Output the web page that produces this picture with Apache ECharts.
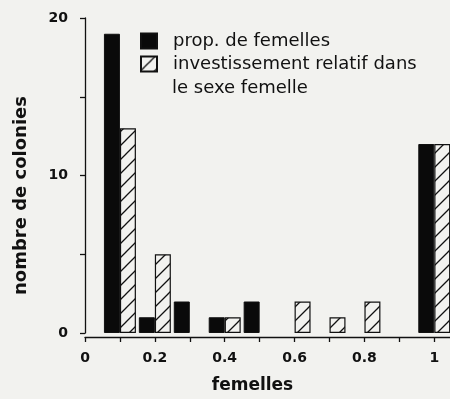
<!DOCTYPE html>
<html>
<head>
<meta charset="utf-8">
<script src="https://cdn.jsdelivr.net/npm/echarts@6/dist/echarts.min.js"></script>
<style>
  html, body { margin: 0; padding: 0; background: #f2f2ef; }
  #chart { width: 450px; height: 399px; }
</style>
</head>
<body>
<div id="chart"></div>
<script>
// Proportion classes (centre of each 0.1-wide class)
const classes = [0.1, 0.2, 0.3, 0.4, 0.5, 0.6, 0.7, 0.8, 0.9, 1.0];
// Number of colonies per class
const propFemelles = [19, 1, 2, 1, 2, 0, 0, 0, 0, 12];
const investissement = [13, 5, 0, 1, 0, 2, 1, 2, 0, 12];
// Axis ticks and labels
const xTicks = [0, 0.1, 0.2, 0.3, 0.4, 0.5, 0.6, 0.7, 0.8, 0.9, 1.0];
const xLabels = [0, 0.2, 0.4, 0.6, 0.8, 1.0];
const yLabels = [0, 10, 20];

const seriesNames = ['prop. de femelles', 'investissement relatif dans'];
const legendExtraLine = 'le sexe femelle';

// Empty classes get no bar at all (no outline on the baseline)
function toBars(values) {
  return classes.map((c, i) => [c, values[i] === 0 ? '-' : values[i]]);
}

// Diagonal "/" hatching tile
function hatchPattern() {
  const s = 14;
  const c = document.createElement('canvas');
  c.width = s; c.height = s;
  const g = c.getContext('2d');
  g.fillStyle = '#f2f2ef';
  g.fillRect(0, 0, s, s);
  g.strokeStyle = '#111';
  g.lineWidth = 1.3;
  g.beginPath();
  g.moveTo(-2, s + 2); g.lineTo(s + 2, -2);
  g.moveTo(-2, 2); g.lineTo(2, -2);
  g.moveTo(s - 2, s + 2); g.lineTo(s + 2, s - 2);
  g.stroke();
  return c;
}

const ink = '#111';
const chart = echarts.init(document.getElementById('chart'), null, { renderer: 'canvas' });

chart.setOption({
  backgroundColor: '#f2f2ef',
  animation: false,
  grid: { left: 85, right: 0, top: 18, bottom: 65 },
  legend: {
    orient: 'vertical',
    left: 140,
    top: 32,
    padding: 0,
    icon: 'rect',
    itemWidth: 16,
    itemHeight: 15,
    itemGap: 5,
    data: seriesNames,
    textStyle: {
      fontFamily: 'DejaVu Sans',
      fontSize: 18,
      lineHeight: 18,
      color: ink,
      padding: [0, 0, 0, 11]
    }
  },
  graphic: [{
    type: 'text',
    left: 172,
    top: 79,
    style: {
      text: legendExtraLine,
      font: '18px "DejaVu Sans"',
      fill: ink
    }
  }],
  xAxis: {
    type: 'value',
    min: 0,
    max: 1.045,
    offset: 4,
    splitLine: { show: false },
    axisLine: { onZero: false, lineStyle: { color: ink, width: 1.3 } },
    axisTick: {
      customValues: xTicks,
      length: 5,
      lineStyle: { color: ink, width: 1.3 }
    },
    axisLabel: {
      customValues: xLabels,
      margin: 14,
      color: ink,
      fontFamily: 'DejaVu Sans',
      fontWeight: 'bold',
      fontSize: 14
    },
    name: 'femelles',
    nameLocation: 'middle',
    nameGap: 40,
    nameTextStyle: {
      color: ink,
      fontFamily: 'DejaVu Sans',
      fontWeight: 'bold',
      fontSize: 17,
      verticalAlign: 'top',
      padding: [0, 30, 0, 0]
    }
  },
  yAxis: {
    type: 'value',
    min: 0,
    max: 20,
    interval: 5,
    splitLine: { show: false },
    axisLine: { show: true, lineStyle: { color: ink, width: 1.3 } },
    axisTick: { show: true, length: 5, lineStyle: { color: ink, width: 1.3 } },
    axisLabel: {
      customValues: yLabels,
      margin: 17,
      color: ink,
      fontFamily: 'DejaVu Sans',
      fontWeight: 'bold',
      fontSize: 14
    },
    name: 'nombre de colonies',
    nameLocation: 'middle',
    nameGap: 55,
    nameTextStyle: {
      color: ink,
      fontFamily: 'DejaVu Sans',
      fontWeight: 'bold',
      fontSize: 18,
      padding: [0, 40, 0, 0]
    }
  },
  series: [
    {
      name: seriesNames[0],
      type: 'bar',
      barWidth: 16,
      barGap: '0%',
      data: toBars(propFemelles),
      itemStyle: { color: '#0a0a0a', borderColor: ink, borderWidth: 1 }
    },
    {
      name: seriesNames[1],
      type: 'bar',
      barWidth: 16,
      barGap: '0%',
      data: toBars(investissement),
      itemStyle: {
        color: { image: hatchPattern(), repeat: 'repeat' },
        borderColor: ink,
        borderWidth: 1.2
      }
    }
  ]
});
</script>
</body>
</html>
